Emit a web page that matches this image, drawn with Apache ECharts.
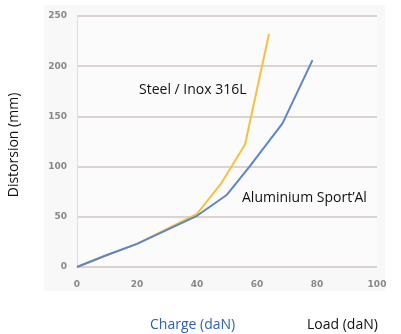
<!DOCTYPE html>
<html><head><meta charset="utf-8">
<script src="https://cdn.jsdelivr.net/npm/echarts@6/dist/echarts.min.js"></script>
<style>html,body{margin:0;padding:0;background:#fff}#c{width:401px;height:334px}</style>
</head><body><div id="c"></div>
<script>
const steelData = [[0,0],[10,12],[20,23],[30,38],[40,53],[48,83],[56,122],[64,232]];
const aluData = [[0,0],[10,12],[20,23],[30,37],[40,51],[50,72],[57.5,100],[68.5,143],[78.5,206]];
const xTicks = [0,20,40,60,80,100];
const yTicks = [0,50,100,150,200,250];
const steelName = 'Steel / Inox 316L';
const aluName = 'Aluminium Sport\u2019Al';

const F = '14px "Open Sans", sans-serif';
const chart = echarts.init(document.getElementById('c'), null, {renderer:'canvas'});
chart.setOption({
  animation:false,
  backgroundColor:'#fff',
  graphic:[
    {type:'rect', shape:{x:44,y:5,width:341,height:286}, style:{fill:'#f8f8f8'}, z:-10},
    {type:'rect', shape:{x:78,y:17,width:299,height:249}, style:{fill:'#fbfbfb'}, z:-9},
    {type:'text', x:139, y:90, style:{text:steelName, font:F, fill:'#111', verticalAlign:'middle'}},
    {type:'text', x:242, y:198, style:{text:aluName, font:F, fill:'#111', verticalAlign:'middle'}},
    {type:'text', x:150, y:325, style:{text:'Charge (daN)', font:F, fill:'#2f5fb0', verticalAlign:'middle'}},
    {type:'text', x:307, y:325, style:{text:'Load (daN)', font:F, fill:'#111', verticalAlign:'middle'}},
    {type:'text', x:14, y:145, rotation:Math.PI/2, style:{text:'Distorsion (mm)', font:F, fill:'#111', align:'center', verticalAlign:'middle'}}
  ],
  grid:{left:77, right:24, top:16, bottom:67, containLabel:false},
  xAxis:{type:'value', min:0, max:100, interval:20,
    axisLine:{show:false}, axisTick:{show:false},
    splitLine:{show:false},
    axisLabel:{color:'#888', fontSize:9, fontWeight:'bold', margin:13, fontFamily:'DejaVu Sans',
      formatter:v=>xTicks.includes(v)?String(v):''}},
  yAxis:{type:'value', min:0, max:250, interval:50,
    axisLine:{show:true, lineStyle:{color:'#e2dcda', width:1}}, axisTick:{show:false},
    splitLine:{show:true, lineStyle:{color:'#cfc6c2', width:1.5}},
    axisLabel:{color:'#888', fontSize:9, fontWeight:'bold', margin:10, fontFamily:'DejaVu Sans',
      formatter:v=>yTicks.includes(v)?String(v):''}},
  series:[
    {name:'steel', type:'line', data:steelData, symbol:'none', lineStyle:{color:'#f4c144', width:2}, z:3},
    {name:'alu', type:'line', data:aluData, symbol:'none', lineStyle:{color:'#5d87c4', width:2}, z:4}
  ]
});
</script></body></html>
